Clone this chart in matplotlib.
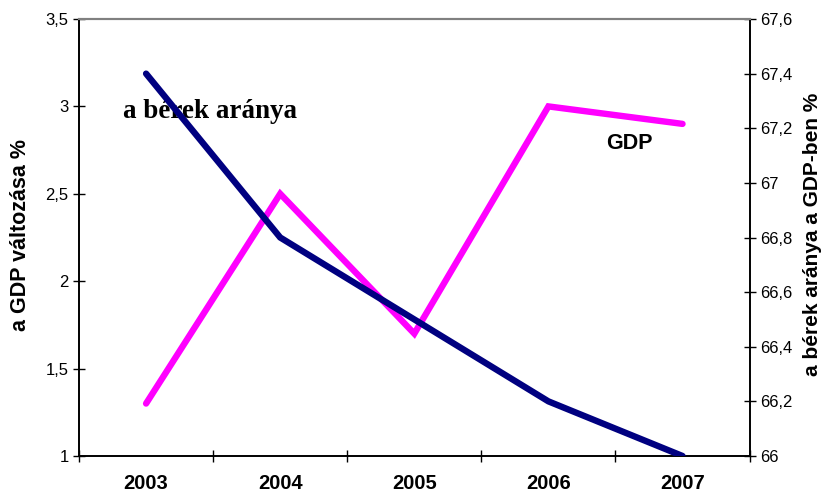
import matplotlib
matplotlib.use("Agg")
import matplotlib.pyplot as plt
from matplotlib.ticker import FuncFormatter, FixedLocator

# adatok
years = ["2003", "2004", "2005", "2006", "2007"]
gdp_change = [1.3, 2.5, 1.7, 3.0, 2.9]
wage_share = [67.4, 66.8, 66.5, 66.2, 66.0]

left_ticks = [1, 1.5, 2, 2.5, 3, 3.5]
right_ticks = [66, 66.2, 66.4, 66.6, 66.8, 67, 67.2, 67.4, 67.6]

plt.rcParams["font.family"] = ["Liberation Sans", "DejaVu Sans"]


def comma(v, pos=None):
    s = f"{v:.1f}".rstrip("0").rstrip(".")
    return s.replace(".", ",")


fig = plt.figure(figsize=(8.24, 4.95), dpi=100)
ax = fig.add_axes([0.0959, 0.0788, 0.8138, 0.8828])
ax2 = ax.twinx()

x = list(range(len(years)))
ax.plot(x, gdp_change, color="#FF00FF", lw=4.6, solid_capstyle="round",
        solid_joinstyle="miter", zorder=3)
ax2.plot(x, wage_share, color="#000080", lw=4.6, solid_capstyle="round",
         solid_joinstyle="miter", zorder=3)

ax.set_xlim(-0.5, len(years) - 0.5)
ax.set_ylim(1, 3.5)
ax2.set_ylim(66, 67.6)

ax.set_yticks(left_ticks)
ax.yaxis.set_major_formatter(FuncFormatter(comma))
ax2.set_yticks(right_ticks)
ax2.yaxis.set_major_formatter(FuncFormatter(comma))

# kategória tengely: osztások a kategóriák között
ax.set_xticks(x)
ax.set_xticklabels(years, fontweight="bold", fontsize=14.5)
ax.tick_params(axis="x", which="major", length=0, pad=13)
ax.xaxis.set_minor_locator(FixedLocator([i + 0.5 for i in range(-1, len(years))]))
ax.tick_params(axis="x", which="minor", length=8, direction="inout", width=1)

ax.tick_params(axis="y", direction="inout", length=8, labelsize=12, width=1)
ax2.tick_params(axis="y", direction="inout", length=8, labelsize=12, width=1)

for a in (ax, ax2):
    a.spines["top"].set_color("#808080")
    a.spines["top"].set_linewidth(1.5)
    a.spines["left"].set_linewidth(1.2)
    a.spines["right"].set_linewidth(1.2)
    a.spines["bottom"].set_linewidth(1.2)

# tengelyfeliratok
fig.text(21 / 824, 1 - 235 / 495, "a GDP változása %", rotation=90,
         fontweight="bold", fontsize=15.5, ha="center", va="center")
fig.text(813 / 824, 1 - 234 / 495, "a bérek aránya a GDP-ben %", rotation=90,
         fontweight="bold", fontsize=15, ha="center", va="center")

ax.text(0.478, 2.968, "a bérek aránya", family=["Liberation Serif", "DejaVu Serif"],
        fontweight="bold", fontsize=19.5, ha="center", va="center")
ax.text(3.6, 2.79, "GDP", fontweight="bold", fontsize=15.5, ha="center", va="center")

fig.savefig("out.png", dpi=100)
